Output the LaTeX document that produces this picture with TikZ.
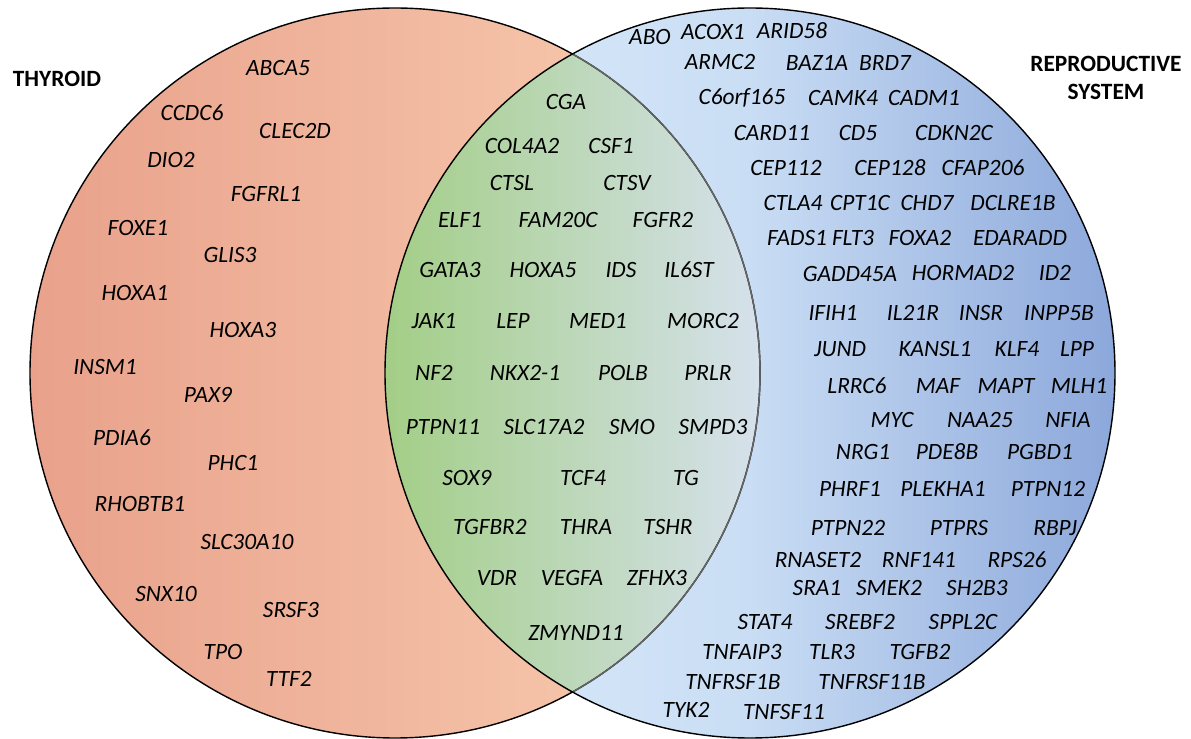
\documentclass[tikz,border=0pt]{standalone}
\usepackage{fontspec}
\setmainfont{Carlito}
\definecolor{thyL}{HTML}{E9A18B}
\definecolor{thyR}{HTML}{F9CFB3}
\definecolor{repL}{HTML}{DCEDFB}
\definecolor{repM}{HTML}{C9DDF4}
\definecolor{repR}{HTML}{8CA8DB}
\definecolor{intL}{HTML}{A3CE86}
\definecolor{intR}{HTML}{D6E1EC}
\tikzset{
  gene/.style={font=\fontsize{13.3}{15}\selectfont\itshape, inner sep=0pt, text=black},
  setlabel/.style={font=\fontsize{13.3}{15.5}\selectfont\bfseries, align=center, inner sep=0pt},
  ring/.style={line width=0.8pt, draw=black}
}
\begin{document}
\begin{tikzpicture}[x=0.02cm,y=-0.02cm]
\useasboundingbox (0,0) rectangle (1191,739);
% left circle (thyroid)
\shade[left color=thyL, right color=thyR] (395,373) circle[radius=365];
% right circle (reproductive)
\begin{scope}
\clip (750,373) circle[radius=365];
\shade[left color=repL, right color=repR, middle color=repM] (385,0) rectangle (1115,739);
\end{scope}
% intersection
\begin{scope}
\clip (395,373) circle[radius=365];
\clip (750,373) circle[radius=365];
\shade[left color=intL, right color=intR] (385,0) rectangle (760,739);
\end{scope}
\draw[ring] (395,373) circle[radius=365];
\begin{scope}
\clip (750,373) circle[radius=365];
\draw[line width=0.8pt, draw=black!60] (395,373) circle[radius=365];
\end{scope}
\draw[ring] (750,373) circle[radius=365];
% labels
\node[setlabel] (thyroid) at (57,79) {THYROID};
\node[setlabel] (repro) at (1106,78) {REPRODUCTIVE\\SYSTEM};
% thyroid only
\foreach \x/\y/\t [count=\i] in {
 278/68/ABCA5, 192/113/CCDC6, 295/131/CLEC2D, 171/160/DIO2, 266/194/FGFRL1,
 138/228/FOXE1, 230/255/GLIS3, 135/293/HOXA1, 243/330/HOXA3, 105/367/INSM1,
 208/395/PAX9, 122/438/PDIA6, 233/463/PHC1, 140/504/RHOBTB1, 247/542/SLC30A10,
 166/594/SNX10, 291/610/SRSF3, 223/652/TPO, 289/679/TTF2}
 \node[gene] (a\i) at (\x,\y) {\t};
% shared
\foreach \x/\y/\t [count=\i] in {
 566/102/CGA, 522/146/COL4A2, 611/146/CSF1, 512/183/CTSL, 627/183/CTSV,
 460/220/ELF1, 558/220/FAM20C, 663/220/FGFR2,
 450/270/GATA3, 543/270/HOXA5, 621/270/IDS, 689/270/IL6ST,
 434/321/JAK1, 513/321/LEP, 598/321/MED1, 703/321/MORC2,
 434/373/NF2, 525/373/NKX2-1, 623/373/POLB, 708/373/PRLR,
 443/427/PTPN11, 544/427/SLC17A2, 632/427/SMO, 713/427/SMPD3,
 467/478/SOX9, 583/478/TCF4, 686/478/TG,
 490/527/TGFBR2, 586/527/THRA, 668/527/TSHR,
 497/578/VDR, 572/578/VEGFA, 657/578/ZFHX3, 576/633/ZMYND11}
 \node[gene] (b\i) at (\x,\y) {\t};
% reproductive only
\foreach \x/\y/\t [count=\i] in {
 650/37/ABO, 713/32/ACOX1, 792/31/ARID58,
 720/62/ARMC2, 817/63/BAZ1A, 885/63/BRD7,
 742/98/C6orf165, 843/98/CAMK4, 924/98/CADM1,
 772/133/CARD11, 858/133/CD5, 954/133/CDKN2C,
 786/168/CEP112, 890/168/CEP128, 983/168/CFAP206,
 793/203/CTLA4, 860/203/CPT1C, 927/203/CHD7, 1013/203/DCLRE1B,
 797/238/FADS1, 853/238/FLT3, 920/238/FOXA2, 1020/238/EDARADD,
 850/274/GADD45A, 963/273/HORMAD2, 1055/273/ID2,
 833/313/IFIH1, 913/313/IL21R, 981/313/INSR, 1059/313/INPP5B,
 840/349/JUND, 935/349/KANSL1, 1017/349/KLF4, 1077/349/LPP,
 857/386/LRRC6, 938/386/MAF, 1006/386/MAPT, 1079/386/MLH1,
 892/420/MYC, 980/420/NAA25, 1068/420/NFIA,
 863/452/NRG1, 947/452/PDE8B, 1040/452/PGBD1,
 850/489/PHRF1, 943/489/PLEKHA1, 1048/489/PTPN12,
 848/528/PTPN22, 959/528/PTPRS, 1055/528/RBPJ,
 818/560/RNASET2, 919/560/RNF141, 1017/560/RPS26,
 817/588/SRA1, 889/588/SMEK2, 977/588/SH2B3,
 765/622/STAT4, 860/622/SREBF2, 963/622/SPPL2C,
 742/652/TNFAIP3, 832/652/TLR3, 920/652/TGFB2,
 733/682/TNFRSF1B, 872/682/TNFRSF11B,
 686/710/TYK2, 784/712/TNFSF11}
 \node[gene] (c\i) at (\x,\y) {\t};
\end{tikzpicture}
\end{document}
